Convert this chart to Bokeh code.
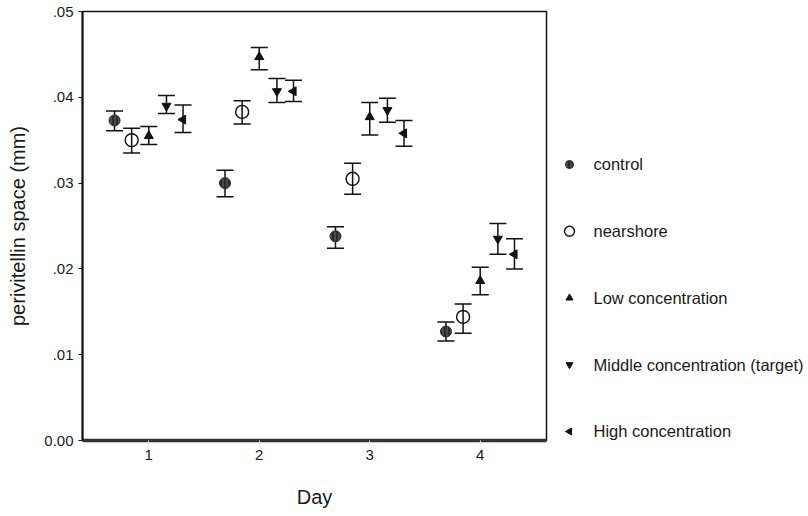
import math
from bokeh.plotting import figure
from bokeh.layouts import row
from bokeh.models import ColumnDataSource, Whisker, TeeHead, FixedTicker, Range1d
from bokeh.core.properties import value
from bokeh.transform import dodge
from bokeh.embed import file_html
from bokeh.resources import INLINE

days = [1, 2, 3, 4]
day_ticks = [1, 2, 3, 4]
y_ticks = [0.0, 0.01, 0.02, 0.03, 0.04, 0.05]
y_tick_labels = ["0.00", ".01", ".02", ".03", ".04", ".05"]

series_names = ["control", "nearshore", "Low concentration",
                "Middle concentration (target)", "High concentration"]

control_mean = [0.0373, 0.0300, 0.0238, 0.0127]
control_lo = [0.0361, 0.0284, 0.0224, 0.0116]
control_hi = [0.0384, 0.0315, 0.0249, 0.0138]

nearshore_mean = [0.0350, 0.0383, 0.0305, 0.0144]
nearshore_lo = [0.0335, 0.0369, 0.0287, 0.0125]
nearshore_hi = [0.0364, 0.0396, 0.0323, 0.0159]

low_mean = [0.0355, 0.0447, 0.0377, 0.0186]
low_lo = [0.0345, 0.0432, 0.0356, 0.0170]
low_hi = [0.0366, 0.0458, 0.0394, 0.0202]

middle_mean = [0.0390, 0.0407, 0.0385, 0.0235]
middle_lo = [0.0381, 0.0394, 0.0371, 0.0217]
middle_hi = [0.0402, 0.0422, 0.0399, 0.0253]

high_mean = [0.0374, 0.0407, 0.0358, 0.0217]
high_lo = [0.0359, 0.0395, 0.0343, 0.0200]
high_hi = [0.0391, 0.0420, 0.0373, 0.0235]

FONT = "Liberation Sans"
INK = "#111111"
TXT = "#1a1a1a"
TOP, BOTTOM, HEIGHT = 11, 72, 512
MAIN_W, LEG_W = 548, 258

p = figure(width=MAIN_W, height=HEIGHT, output_backend="svg",
           toolbar_location=None,
           x_range=Range1d(0.4, 4.6), y_range=Range1d(0.0, 0.05),
           min_border_left=82, min_border_right=2, min_border_top=TOP,
           min_border_bottom=BOTTOM)
p.background_fill_color = "white"
p.border_fill_color = "white"
p.outline_line_color = INK
p.outline_line_width = 1.5
p.xgrid.visible = False
p.ygrid.visible = False

control_style = dict(marker="circle", fill_color="#2b2b2b", line_color="#2b2b2b",
                     hatch_pattern="|", hatch_color="#6a6a6a", hatch_scale=4,
                     hatch_weight=1)
near_style = dict(marker="circle", fill_color=None, line_color=INK, line_width=1.4)
low_style = dict(marker="triangle", fill_color=INK, line_color=INK)
mid_style = dict(marker="inverted_triangle", fill_color=INK, line_color=INK)
high_style = dict(marker="triangle", angle=math.pi / 2, fill_color=INK, line_color=INK)

series = [
    (control_mean, control_lo, control_hi, -0.31, control_style, 11, 8),
    (nearshore_mean, nearshore_lo, nearshore_hi, -0.155, near_style, 13, 10),
    (low_mean, low_lo, low_hi, 0.0, low_style, 9, 7),
    (middle_mean, middle_lo, middle_hi, 0.16, mid_style, 9, 7),
    (high_mean, high_lo, high_hi, 0.31, high_style, 9, 7),
]

for mean, lo, hi, off, style, size, _ in series:
    src = ColumnDataSource(dict(day=days, mean=mean, lo=lo, hi=hi))
    w = Whisker(source=src, base=dodge("day", off), upper="hi", lower="lo",
                line_color=INK, line_width=1.5,
                upper_head=TeeHead(size=17, line_color=INK, line_width=1.5),
                lower_head=TeeHead(size=17, line_color=INK, line_width=1.5))
    p.add_layout(w)
    p.scatter(x=dodge("day", off), y="mean", source=src, size=size, **style)

# axes
p.xaxis.ticker = FixedTicker(ticks=day_ticks)
p.xaxis.axis_label = "Day"
p.xaxis.axis_line_color = "#333333"
p.xaxis.axis_line_width = 3.5
p.xaxis.major_tick_line_color = "#dddddd"
p.xaxis.major_tick_out = 3
p.xaxis.major_tick_in = 0
p.xaxis.minor_tick_line_color = None
p.xaxis.major_label_standoff = 6
p.xaxis.axis_label_standoff = 23
p.xaxis.major_label_text_font = FONT
p.xaxis.major_label_text_font_size = "15px"
p.xaxis.major_label_text_color = TXT
p.xaxis.axis_label_text_font = FONT
p.xaxis.axis_label_text_font_size = "20px"
p.xaxis.axis_label_text_font_style = "normal"
p.xaxis.axis_label_text_color = TXT

p.yaxis.ticker = FixedTicker(ticks=y_ticks)
p.yaxis.major_label_overrides = {t: s for t, s in zip(y_ticks, y_tick_labels)}
p.yaxis.axis_label = "perivitellin space (mm)"
p.yaxis.axis_line_color = INK
p.yaxis.axis_line_width = 2
p.yaxis.major_tick_line_color = INK
p.yaxis.major_tick_out = 4
p.yaxis.major_tick_in = 0
p.yaxis.minor_tick_line_color = None
p.yaxis.major_label_standoff = 5
p.yaxis.axis_label_standoff = 12
p.yaxis.major_label_text_font = FONT
p.yaxis.major_label_text_font_size = "15px"
p.yaxis.major_label_text_color = TXT
p.yaxis.axis_label_text_font = FONT
p.yaxis.axis_label_text_font_size = "20px"
p.yaxis.axis_label_text_font_style = "normal"
p.yaxis.axis_label_text_color = TXT

# legend panel (separate figure so the left-pointing triangle keeps its angle)
row_pos = list(range(len(series_names)))[::-1]
lg = figure(width=LEG_W, height=HEIGHT, output_backend="svg",
            toolbar_location=None,
            x_range=Range1d(0, LEG_W), y_range=Range1d(-0.135, 6.292),
            min_border_left=0, min_border_right=0, min_border_top=TOP,
            min_border_bottom=BOTTOM)
lg.axis.visible = False
lg.grid.visible = False
lg.outline_line_color = None
lg.background_fill_color = "white"
lg.border_fill_color = "white"

for ypos, (_, _, _, _, style, _, lsize) in zip(row_pos, series):
    lg.scatter(x=[21], y=[ypos], size=lsize, **style)

lg.text(x=45, y=row_pos, text=series_names, text_baseline="middle",
        text_align="left", text_font=value(FONT), text_font_size="16.5px",
        text_color=TXT)

layout = row(p, lg, spacing=0)
open("out.html", "w").write(file_html(layout, INLINE))
